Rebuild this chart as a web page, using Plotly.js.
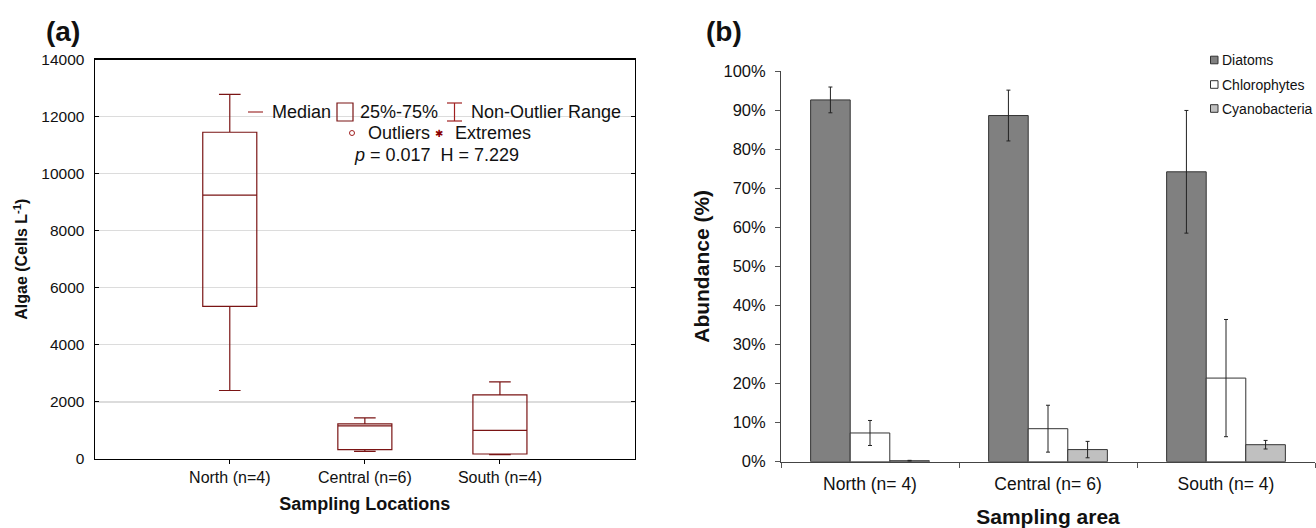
<!DOCTYPE html>
<html>
<head>
<meta charset="utf-8">
<script src="https://cdn.plot.ly/plotly-3.0.1.min.js"></script>
<style>
  html, body { margin: 0; padding: 0; background: #fff; }
  #chart { width: 1316px; height: 528px; }
</style>
</head>
<body>
<div id="chart"></div>
<script>
// ---------- Panel (a) data: algae box plot ----------
const locations = ['North (n=4)', 'Central (n=6)', 'South (n=4)'];
const locationPos = [1, 2, 3];
const algaeLowerFence = [2400, 270, 150];
const algaeQ1 = [5350, 330, 175];
const algaeMedian = [9250, 1160, 1000];
const algaeQ3 = [11450, 1230, 2250];
const algaeUpperFence = [12780, 1440, 2700];

// ---------- Panel (b) data: relative abundance ----------
const areas = ['North (n= 4)', 'Central (n= 6)', 'South (n= 4)'];
const groupNames = ['Diatoms', 'Chlorophytes', 'Cyanobacteria'];
const diatoms = [92.6, 88.6, 74.2];
const diatomsErr = [3.3, 6.5, 15.7];
const chlorophytes = [7.35, 8.45, 21.4];
const chlorophytesErr = [3.2, 6.0, 15.0];
const cyanobacteria = [0.25, 3.1, 4.35];
const cyanobacteriaErr = [0.1, 2.1, 1.1];

const W = 1316, H = 528;
const px = x => x / W;
const py = y => 1 - y / H;
const FONT = 'Liberation Sans, Arial, Helvetica, sans-serif';
const RED = '#7a1414';
const barColors = ['#808080', '#ffffff', '#c0c0c0'];
const barValues = [diatoms, chlorophytes, cyanobacteria];
const barErrors = [diatomsErr, chlorophytesErr, cyanobacteriaErr];

const traces = [
  {
    type: 'box',
    name: 'Algae',
    x: locationPos,
    q1: algaeQ1,
    median: algaeMedian,
    q3: algaeQ3,
    lowerfence: algaeLowerFence,
    upperfence: algaeUpperFence,
    width: 0.4,
    whiskerwidth: 0.4,
    boxpoints: false,
    fillcolor: 'rgba(255,255,255,0)',
    line: { color: RED, width: 1.2 },
    xaxis: 'x', yaxis: 'y',
    showlegend: false,
    hoverinfo: 'skip'
  }
];
groupNames.forEach((name, i) => {
  traces.push({
    type: 'bar', name: name, x: areas, y: barValues[i],
    marker: { color: barColors[i], line: { color: '#333333', width: 1 } },
    error_y: { type: 'data', array: barErrors[i], visible: true, color: '#222', thickness: 1, width: 2 },
    xaxis: 'x2', yaxis: 'y2', showlegend: false, hoverinfo: 'skip'
  });
});

const txt = (text, x, y, size, opts) => Object.assign({
  text: text, x: px(x), y: py(y), xref: 'paper', yref: 'paper',
  xanchor: 'left', yanchor: 'middle', showarrow: false,
  font: { family: FONT, size: size, color: '#111' }
}, opts || {});

const annotations = [
  txt('<b>(a)</b>', 63, 31, 28, { xanchor: 'center' }),
  txt('<b>(b)</b>', 724, 31, 28, { xanchor: 'center' }),
  txt('Median', 270, 112, 18),
  txt('25%-75%', 358, 112, 18),
  txt('Non-Outlier Range', 469, 112, 18),
  txt('Outliers', 366, 133, 18),
  txt('Extremes', 453, 133, 18),
  txt('<i>p</i> = 0.017&nbsp;&nbsp;H = 7.229', 352, 155, 18),
  txt('✱', 439, 133, 10, { xanchor: 'center', font: { family: 'DejaVu Sans', size: 10, color: '#8b0000' } })
];

const shapes = [
  { type: 'line', xref: 'paper', yref: 'paper', x0: px(248), x1: px(263), y0: py(112), y1: py(112), line: { color: '#a03030', width: 1.2 } },
  { type: 'rect', xref: 'paper', yref: 'paper', x0: px(337), x1: px(353), y0: py(103), y1: py(121), line: { color: RED, width: 1.2 } },
  { type: 'line', xref: 'paper', yref: 'paper', x0: px(454.5), x1: px(454.5), y0: py(103), y1: py(121), line: { color: '#a02020', width: 1.2 } },
  { type: 'line', xref: 'paper', yref: 'paper', x0: px(447), x1: px(462), y0: py(103), y1: py(103), line: { color: '#a02020', width: 1.2 } },
  { type: 'line', xref: 'paper', yref: 'paper', x0: px(447), x1: px(462), y0: py(121), y1: py(121), line: { color: '#a02020', width: 1.2 } },
  { type: 'circle', xref: 'paper', yref: 'paper', x0: px(349.5), x1: px(354.5), y0: py(130.5), y1: py(135.5), line: { color: '#a02020', width: 1 } }
];

// legend for panel (b), drawn next to the plot
const legendRows = [60, 84.5, 108.5];
groupNames.forEach((name, i) => {
  const yc = legendRows[i];
  shapes.push({ type: 'rect', xref: 'paper', yref: 'paper',
    x0: px(1210.5), x1: px(1218), y0: py(yc - 3.8), y1: py(yc + 3.8),
    fillcolor: barColors[i], line: { color: '#333', width: 1 } });
  annotations.push(txt(name, 1219.5, yc, 14));
});

const layout = {
  width: W, height: H,
  margin: { l: 0, r: 0, t: 0, b: 0 },
  paper_bgcolor: '#fff', plot_bgcolor: 'rgba(0,0,0,0)',
  font: { family: FONT, color: '#111' },
  showlegend: false,
  barmode: 'group', bargap: 0.333, bargroupgap: 0,
  xaxis: {
    domain: [px(94.7), px(635)], range: [0, 4],
    tickvals: locationPos, ticktext: locations,
    ticks: 'outside', ticklen: 4, tickcolor: '#000',
    showline: true, linecolor: '#000', linewidth: 1.2, mirror: true,
    showgrid: false, zeroline: false,
    tickfont: { family: FONT, size: 16, color: '#111' },
    title: { text: '<b>Sampling Locations</b>', font: { family: FONT, size: 18, color: '#111' }, standoff: 12 }
  },
  xaxis3: {
    overlaying: 'x', side: 'top', range: [0, 6],
    tickvals: [1, 2, 3, 4, 5], ticks: 'inside', ticklen: 3, tickcolor: '#000',
    showticklabels: false, showgrid: false, zeroline: false, showline: false
  },
  yaxis: {
    domain: [1 - 459 / H, 1 - 59.5 / H], range: [0, 14000], dtick: 2000, tickformat: 'd',
    ticks: 'inside', ticklen: 4, tickcolor: '#000', ticklabelstandoff: 6,
    showline: true, linecolor: '#000', linewidth: 1.2, mirror: 'ticks',
    showgrid: true, gridcolor: '#dcdcdc', gridwidth: 1.2, zeroline: false,
    tickfont: { family: FONT, size: 15.5, color: '#111' },
    title: { text: '<b>Algae (Cells L<sup>-1</sup>)</b>', font: { family: FONT, size: 16, color: '#111' }, standoff: 9 }
  },
  xaxis2: {
    domain: [px(781), px(1315)], type: 'category',
    tickson: 'boundaries', ticks: 'outside', ticklen: 5, tickcolor: '#555', ticklabelstandoff: 6,
    showline: true, linecolor: '#444', linewidth: 1,
    showgrid: false, zeroline: false,
    tickfont: { family: FONT, size: 17.5, color: '#111' },
    title: { text: '<b>Sampling area</b>', font: { family: FONT, size: 21, color: '#111' }, standoff: 21 },
    anchor: 'y2'
  },
  yaxis2: {
    domain: [1 - 461.7 / H, 1 - 71 / H], range: [0, 100], dtick: 10, ticksuffix: '%',
    ticks: 'outside', ticklen: 5, tickcolor: '#555', ticklabelstandoff: 6,
    showline: true, linecolor: '#444', linewidth: 1,
    showgrid: false, zeroline: false,
    tickfont: { family: FONT, size: 16.5, color: '#111' },
    title: { text: '<b>Abundance (%)</b>', font: { family: FONT, size: 21, color: '#111' }, standoff: 8 },
    anchor: 'x2'
  },
  annotations: annotations,
  shapes: shapes
};

Plotly.newPlot('chart', traces, layout, { staticPlot: true, displayModeBar: false });
</script>
</body>
</html>
